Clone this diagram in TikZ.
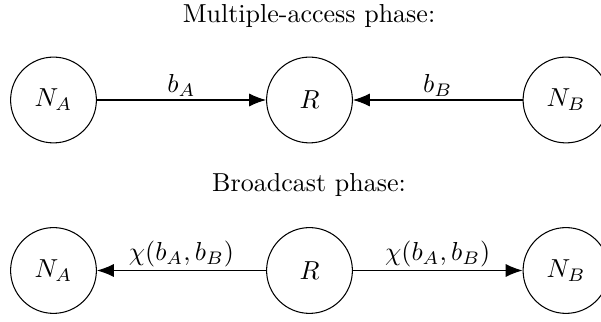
\documentclass[tikz,border=0pt]{standalone}
\usetikzlibrary{arrows.meta}
\begin{document}
\begin{tikzpicture}[x=0.38462pt,y=-0.38462pt,
  nd/.style={draw,circle,minimum size=33pt,inner sep=0pt},
  arr/.style={draw,-{Latex[length=6.5pt,width=5pt]}},
  lbl/.style={above,inner sep=1pt}]
\useasboundingbox (0,0) rectangle (601,322);
\node (t1) at (309,16) {Multiple-access phase:};
\node[nd] (na1) at (53.5,100) {$N_A$};
\node[nd] (r1) at (309.5,100) {$R$};
\node[nd] (nb1) at (566,100) {$N_B$};
\path[arr] (na1) -- node[lbl] {$b_A$} (r1);
\path[arr] (nb1) -- node[lbl] {$b_B$} (r1);
\node (t2) at (309,185) {Broadcast phase:};
\node[nd] (na2) at (53.5,270.5) {$N_A$};
\node[nd] (r2) at (309.5,270.5) {$R$};
\node[nd] (nb2) at (566,270.5) {$N_B$};
\path[arr] (r2) -- node[lbl] {$\chi(b_A,b_B)$} (na2);
\path[arr] (r2) -- node[lbl] {$\chi(b_A,b_B)$} (nb2);
\end{tikzpicture}
\end{document}
